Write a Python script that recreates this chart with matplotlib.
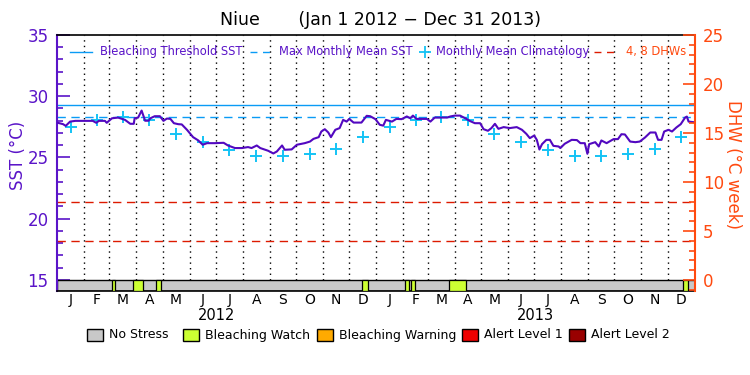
import numpy as np
import matplotlib
matplotlib.use("Agg")
import matplotlib.pyplot as plt
from matplotlib.patches import Rectangle
from matplotlib.lines import Line2D
from matplotlib.ticker import MultipleLocator

# ---------------- data ----------------
start_date = np.datetime64("2012-01-01")
end_date = np.datetime64("2014-01-01")

# daily SST (days since 2012-01-01, degC)
sst_days = [0, 7, 10, 15, 21, 41, 45, 48, 55, 57,
            63, 70, 78, 84, 88, 89, 93, 97, 101, 105,
            107, 112, 118, 122, 126, 130, 134, 139, 143, 149,
            156, 162, 167, 172, 181, 191, 196, 204, 212, 219,
            223, 229, 233, 242, 248, 252, 258, 261, 269, 275,
            284, 290, 294, 300, 303, 307, 311, 314, 319, 324,
            328, 332, 335, 340, 349, 355, 359, 365, 370, 374,
            377, 384, 389, 395, 401, 405, 408, 412, 424, 428,
            433, 447, 451, 456, 462, 468, 473, 479, 485, 489,
            494, 498, 502, 506, 512, 519, 527, 533, 538, 542,
            547, 550, 553, 556, 561, 565, 569, 575, 577, 582,
            590, 596, 600, 605, 608, 610, 617, 621, 624, 630,
            638, 643, 647, 651, 657, 663, 668, 674, 680, 686,
            689, 693, 696, 701, 705, 710, 715, 720, 722, 724,
            730]
sst_vals = [27.85, 27.72, 27.58, 27.93, 27.99, 27.99, 27.83, 27.99, 27.99, 27.83,
            28.20, 28.26, 28.07, 27.75, 27.75, 28.20, 28.26, 28.83, 28.00, 28.00,
            28.20, 28.37, 28.37, 27.99, 28.18, 28.15, 27.80, 27.72, 27.70, 27.26,
            26.66, 26.39, 26.04, 26.17, 26.17, 26.20, 25.98, 25.77, 25.77, 25.85,
            25.77, 25.98, 25.77, 25.55, 25.33, 25.49, 25.98, 25.63, 25.66, 26.04,
            26.17, 26.30, 26.52, 26.66, 27.12, 27.31, 27.04, 26.66, 27.26, 27.40,
            28.07, 27.93, 28.15, 27.85, 27.85, 28.40, 28.37, 28.13, 27.67, 27.60,
            28.07, 27.93, 28.15, 28.13, 28.35, 28.20, 28.42, 28.15, 28.15, 27.93,
            28.26, 28.26, 28.35, 28.42, 28.42, 28.20, 27.99, 27.80, 27.80, 27.31,
            27.18, 27.40, 27.75, 27.34, 27.48, 27.40, 27.48, 27.26, 26.93, 26.58,
            26.79, 26.44, 25.65, 26.09, 26.44, 26.44, 25.95, 25.90, 25.77, 26.12,
            26.44, 26.42, 26.17, 26.17, 25.30, 26.09, 26.25, 25.90, 26.39, 26.17,
            26.50, 26.50, 26.90, 26.88, 26.30, 26.25, 26.30, 26.63, 27.04, 27.04,
            26.44, 26.44, 27.12, 27.26, 27.12, 27.45, 27.72, 28.26, 28.34, 27.93,
            27.88]

# monthly mean climatology (Jan..Dec)
clim_vals = [27.48, 28.07, 28.27, 28.05, 26.91, 26.30, 25.65, 25.10, 25.10, 25.27, 25.68, 26.66]

bleaching_threshold = 29.3
max_monthly_mean = 28.3
dhw_levels = [4, 8]

# stress-level segments: (start day, end day, level)
stress_segments = [(63, 67, 1), (87, 99, 1), (113, 119, 1), (350, 357, 1),
                   (399, 403, 1), (406, 410, 1), (449, 469, 1), (718, 723, 1)]

month_letters = ["J", "F", "M", "A", "M", "J", "J", "A", "S", "O", "N", "D"]
years = ["2012", "2013"]
stress_names = ["No Stress", "Bleaching Watch", "Bleaching Warning", "Alert Level 1", "Alert Level 2"]
stress_colors = ["#C8C8C8", "#CCFF33", "#FFAA00", "#EE0000", "#990000"]

# ---------------- styles ----------------
PURPLE = "#5A14C8"
LINE_PURPLE = "#5208C0"
BLUE = "#0A9BF5"
CYAN = "#14C3F5"
RED = "#DD1A00"
ORANGE = "#FF4A10"

W, H = 750, 375
fig = plt.figure(figsize=(7.5, 3.75), dpi=100)
fig.patch.set_facecolor("white")

ax_l, ax_r, ax_t, ax_b = 57, 694.7, 35, 291
ax = fig.add_axes([ax_l / W, 1 - ax_b / H, (ax_r - ax_l) / W, (ax_b - ax_t) / H])

ndays = int((end_date - start_date) / np.timedelta64(1, "D"))
ymin, ymax = 14.1, 35.0
ax.set_xlim(0, ndays)
ax.set_ylim(ymin, ymax)

# month boundaries
months = np.arange(np.datetime64("2012-01"), np.datetime64("2014-02"), np.timedelta64(1, "M"))
mdays = [(np.datetime64(m, "D") - start_date) / np.timedelta64(1, "D") for m in months]
mdays = np.array(mdays, dtype=float)

# stress strip
ax.add_patch(Rectangle((0, ymin), ndays, 15 - ymin, facecolor=stress_colors[0],
                       edgecolor="black", lw=1.0, zorder=2))
for s, e, lvl in stress_segments:
    ax.add_patch(Rectangle((s, ymin), e - s, 15 - ymin, facecolor=stress_colors[lvl],
                           edgecolor="black", lw=0.9, zorder=3))

# dotted month lines
ax.vlines(mdays[1:-1], 15, ymax, colors="black", linestyles=(0, (1, 3)), lw=1.0, zorder=1)

# reference lines
ax.axhline(bleaching_threshold, color=BLUE, lw=1.0, zorder=2)
ax.axhline(max_monthly_mean, color=BLUE, lw=1.0, ls=(0, (6, 4)), zorder=2)
for d in dhw_levels:
    ax.axhline(15 + d * 0.8, color=RED, lw=1.0, ls=(0, (6, 4)), zorder=2)

# climatology crosses at mid-month
mid = (mdays[:-1] + mdays[1:]) / 2.0
clim_all = clim_vals * 2
ax.plot(mid, clim_all, ls="none", marker="+", ms=9, mew=1.4, color=CYAN, zorder=4)

# SST line
ax.plot(sst_days, sst_vals, color=LINE_PURPLE, lw=1.5, zorder=5)

# axes styling
ax.set_xticks([])
for side in ["top", "bottom"]:
    ax.spines[side].set_color("black")
    ax.spines[side].set_linewidth(1.2)
ax.spines["left"].set_color(PURPLE)
ax.spines["left"].set_linewidth(1.5)
ax.spines["right"].set_visible(False)
ax.yaxis.set_major_locator(MultipleLocator(5))
ax.yaxis.set_minor_locator(MultipleLocator(1))
ax.tick_params(axis="y", which="major", direction="in", length=9, width=1.2,
               colors=PURPLE, labelsize=12, pad=6)
ax.tick_params(axis="y", which="minor", direction="in", length=4.5, width=1.2, colors=PURPLE)

ax2 = ax.twinx()
ax2.set_ylim((ymin - 15) * 1.25, (ymax - 15) * 1.25)
ax2.yaxis.set_major_locator(MultipleLocator(5))
ax2.yaxis.set_minor_locator(MultipleLocator(1))
ax2.tick_params(axis="y", which="major", direction="in", length=9, width=1.2,
                colors=ORANGE, labelsize=12, pad=6)
ax2.tick_params(axis="y", which="minor", direction="in", length=4.5, width=1.2, colors=ORANGE)
ax2.spines["right"].set_color(ORANGE)
ax2.spines["right"].set_linewidth(1.5)
for side in ["top", "bottom", "left"]:
    ax2.spines[side].set_visible(False)
ax2.set_xticks([])

# month labels & years
trans = ax.get_xaxis_transform()
for i, c in enumerate(mid):
    ax.text(c, -(300 - ax_b) / (ax_b - ax_t), month_letters[i % 12], transform=trans,
            ha="center", va="center", fontsize=10, color="black")
for j, yr in enumerate(years):
    c = (mdays[12 * j] + mdays[12 * j + 12]) / 2.0
    ax.text(c, -(315 - ax_b) / (ax_b - ax_t), yr, transform=trans,
            ha="center", va="center", fontsize=10.5, color="black")

# title & axis labels
fig.text(380 / W, 1 - 20 / H, "Niue       (Jan 1 2012 \u2212 Dec 31 2013)", ha="center",
         va="center", fontsize=12.5, color="black")
fig.text(18 / W, 1 - 155 / H, "SST (\u00b0C)", rotation=90, ha="center", va="center",
         fontsize=12, color=PURPLE)
fig.text(733 / W, 1 - 165 / H, "DHW (\u00b0C week)", rotation=-90, ha="center", va="center",
         fontsize=12, color=ORANGE)

# top legend
ly = 1 - 52 / H
fig.add_artist(Line2D([70 / W, 92 / W], [ly, ly], color=BLUE, lw=1.0))
fig.text(100 / W, ly, "Bleaching Threshold SST", color=PURPLE, fontsize=8.3, va="center")
fig.add_artist(Line2D([250 / W, 273 / W], [ly, ly], color=BLUE, lw=1.0, ls=(0, (5, 4))))
fig.text(279 / W, ly, "Max Monthly Mean SST", color=PURPLE, fontsize=8.3, va="center")
fig.add_artist(Line2D([425 / W], [ly], color=CYAN, marker="+", ms=8, mew=1.3, ls="none"))
fig.text(436 / W, ly, "Monthly Mean Climatology", color=PURPLE, fontsize=8.3, va="center")
fig.add_artist(Line2D([594 / W, 617 / W], [ly, ly], color=RED, lw=1.0, ls=(0, (5, 4))))
fig.text(626 / W, ly, "4, 8 DHWs", color=ORANGE, fontsize=8.3, va="center")

# bottom legend
box_x = [87, 183, 317, 462, 569]
by0, by1 = 329, 341
for x0, name, col in zip(box_x, stress_names, stress_colors):
    fig.add_artist(Rectangle((x0 / W, 1 - by1 / H), 16 / W, (by1 - by0) / H,
                             facecolor=col, edgecolor="black", lw=1.0,
                             transform=fig.transFigure))
    fig.text((x0 + 22) / W, 1 - (by0 + by1) / 2 / H, name, fontsize=9, va="center",
             color="black")

fig.savefig("out.png", dpi=100)
